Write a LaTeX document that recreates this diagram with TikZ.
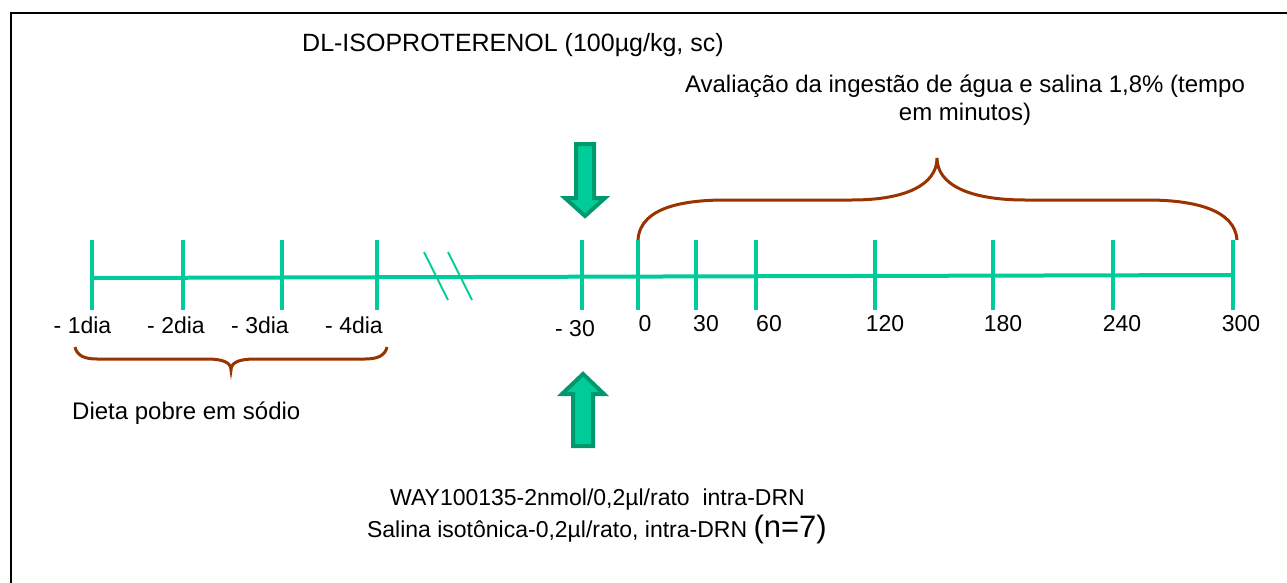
\documentclass[tikz,border=0pt]{standalone}
\usepackage{fontspec}
\setmainfont{Liberation Sans}
\definecolor{tgreen}{RGB}{0,204,153}
\definecolor{agreen}{RGB}{0,153,110}
\definecolor{bbrown}{RGB}{153,51,0}
\begin{document}
\begin{tikzpicture}[x=1pt,y=-1pt,
  lbl/.style={inner sep=0pt,font=\fontsize{23}{27}\selectfont},
  tick/.style={draw=tgreen,line width=4pt},
  axis/.style={draw=tgreen,line width=4pt},
  brk/.style={draw=tgreen,line width=2pt},
  brace/.style={draw=bbrown,line width=3pt},
  bigarrow/.style={draw=agreen,fill=tgreen,line width=4pt,line join=miter}]
\useasboundingbox (0,0) rectangle (1287,583);
% frame
\draw[line width=2pt] (10.5,600) -- (10.5,13.5) -- (1300,13.5);
% main axis
\coordinate (a0) at (92,278);
\coordinate (a1) at (1233,275);
\draw[axis] (a0) -- (a1);
% ticks
\foreach \x in {92,183,282,377,582,638,696,756,875,993,1113,1233}
  \draw[tick] (\x,240) -- (\x,310);
% break marks
\draw[brk] (424,252) -- (448,300);
\draw[brk] (448,252) -- (472,300);
% labels
\node[lbl] (d1) at (82.5,325) {- 1dia};
\node[lbl] (d2) at (176,325) {- 2dia};
\node[lbl] (d3) at (260,325) {- 3dia};
\node[lbl] (d4) at (354,325) {- 4dia};
\node[lbl] (m30) at (575,329) {- 30};
\node[lbl] (t0) at (645,324) {0};
\node[lbl] (t30) at (706,324) {30};
\node[lbl] (t60) at (769,324) {60};
\node[lbl] (t120) at (885,324) {120};
\node[lbl] (t180) at (1003,324) {180};
\node[lbl] (t240) at (1122,324) {240};
\node[lbl] (t300) at (1241,324) {300};
% top texts
\node[lbl,anchor=west,font=\fontsize{25}{29}\selectfont] (iso) at (302,45) {DL-ISOPROTERENOL (100µg/kg, sc)};
\node[lbl,align=center,font=\fontsize{24}{28}\selectfont] (aval) at (965,100) {Avaliação da ingestão de água e salina 1,8\% (tempo\\em minutos)};
% braces
\draw[brace] (638,240) .. controls (640,205) and (690,200) .. (726,200) -- (852,200)
  .. controls (905,200) and (937,185) .. (937,158)
  .. controls (937,185) and (970,200) .. (1025,200) -- (1147,200)
  .. controls (1195,200) and (1235,210) .. (1237,240);
\draw[brace] (75,347) .. controls (77,356) and (85,359) .. (97,359) -- (207,359)
  .. controls (222,359) and (231,362) .. (231,370)
  .. controls (231,362) and (240,359) .. (255,359) -- (365,359)
  .. controls (377,359) and (385,356) .. (387,347);
\node[lbl,anchor=west,font=\fontsize{24}{28}\selectfont] (dieta) at (72,413) {Dieta pobre em sódio};
% arrows
\draw[bigarrow] (576,144) -- (594,144) -- (594,198) -- (605,198) -- (585,216) -- (565,198) -- (576,198) -- cycle;
\draw[bigarrow] (573,446) -- (593,446) -- (593,394) -- (604,394) -- (583,374) -- (562,394) -- (573,394) -- cycle;
% bottom texts
\node[lbl,anchor=base east] (way) at (805,505) {WAY100135-2nmol/0,2µl/rato\ \ intra-DRN};
\node[lbl,anchor=base east] (sal) at (827,537) {Salina isotônica-0,2µl/rato, intra-DRN {\fontsize{31}{35}\selectfont(n=7)}};
\end{tikzpicture}
\end{document}
